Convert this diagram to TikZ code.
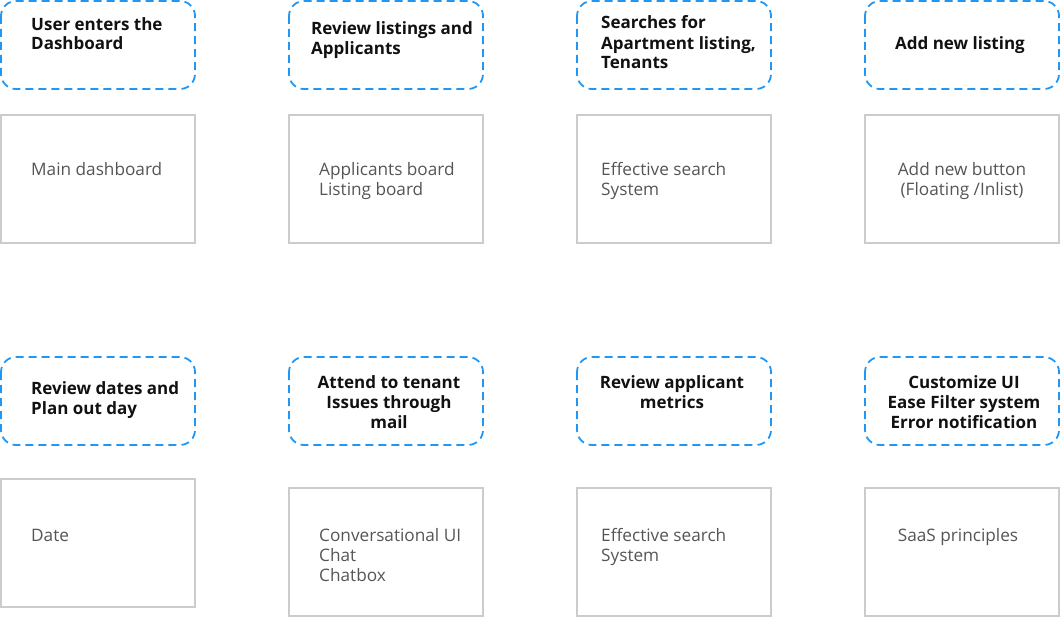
\documentclass[tikz,border=0pt]{standalone}
\usepackage{fontspec}
\setmainfont{Open Sans}
\begin{document}
\begin{tikzpicture}[x=1pt,y=-1pt,
  dbox/.style={draw=blueline,line width=1.8pt,dash pattern=on 8pt off 5pt,rounded corners=15pt},
  sbox/.style={draw=greyline,line width=1.8pt},
  ttl/.style={inner sep=0pt,font=\fontsize{17}{20}\selectfont\bfseries,text=titletext},
  lbl/.style={inner sep=0pt,font=\fontsize{17.2}{20}\selectfont,text=greytext}]
\definecolor{blueline}{HTML}{2196F3}
\definecolor{greyline}{HTML}{CCCCCC}
\definecolor{greytext}{HTML}{555555}
\definecolor{titletext}{HTML}{111111}
\useasboundingbox (0,0) rectangle (1060,618);
% row 1 dashed
\draw[dbox] (1,1) rectangle (195,89);
\draw[dbox] (289,1) rectangle (483,89);
\draw[dbox] (577,1) rectangle (771,89);
\draw[dbox] (865,1) rectangle (1059,89);
% row 1 solid
\draw[sbox] (1,115) rectangle (195,243);
\draw[sbox] (289,115) rectangle (483,243);
\draw[sbox] (577,115) rectangle (771,243);
\draw[sbox] (865,115) rectangle (1059,243);
% row 2 dashed
\draw[dbox] (1,357) rectangle (195,445);
\draw[dbox] (289,357) rectangle (483,445);
\draw[dbox] (577,357) rectangle (771,445);
\draw[dbox] (865,357) rectangle (1059,445);
% row 2 solid
\draw[sbox] (1,479) rectangle (195,607);
\draw[sbox] (289,488) rectangle (483,616);
\draw[sbox] (577,488) rectangle (771,616);
\draw[sbox] (865,488) rectangle (1059,616);
% titles (anchor = baseline of last line)
\node[ttl,anchor=base west,align=left] (t1) at (31,50) {User enters the\\Dashboard};
\node[ttl,anchor=base west,align=left] (t2) at (311,55) {Review listings and\\Applicants};
\node[ttl,anchor=base west,align=left] (t3) at (601,69) {Searches for\\Apartment listing,\\Tenants};
\node[ttl,anchor=base,align=center] (t4) at (960,49) {Add new listing};
\node[ttl,anchor=base west,align=left] (t5) at (31,414) {Review dates and\\Plan out day};
\node[ttl,anchor=base,align=center] (t6) at (389,428) {Attend to tenant\\Issues through\\mail};
\node[ttl,anchor=base,align=center] (t7) at (672,408) {Review applicant\\metrics};
\node[ttl,anchor=base,align=center] (t8) at (964,428) {Customize UI\\Ease Filter system\\Error notification};
% labels
\node[lbl,anchor=base west,align=left] (l1) at (31,175) {Main dashboard};
\node[lbl,anchor=base west,align=left] (l2) at (319,195) {Applicants board\\Listing board};
\node[lbl,anchor=base west,align=left] (l3) at (601,195) {Effective search\\System};
\node[lbl,anchor=base,align=center] (l4) at (962,195) {Add new button\\(Floating /Inlist)};
\node[lbl,anchor=base west,align=left] (l5) at (31,541) {Date};
\node[lbl,anchor=base west,align=left] (l6) at (319,581) {Conversational UI\\Chat\\Chatbox};
\node[lbl,anchor=base west,align=left] (l7) at (601,561) {Effective search\\System};
\node[lbl,anchor=base,align=center] (l8) at (958,541) {SaaS principles};
\end{tikzpicture}
\end{document}
